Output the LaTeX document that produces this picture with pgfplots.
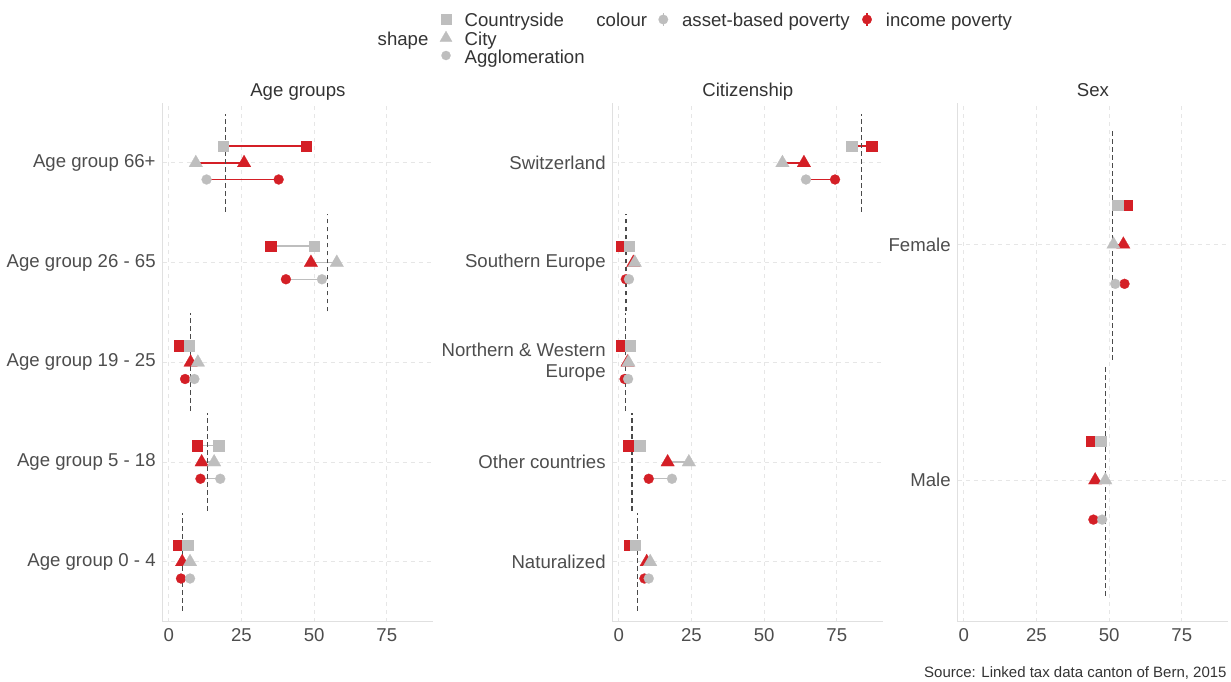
\documentclass[border=0pt]{standalone}
\usepackage{pgfplots}
\pgfplotsset{compat=1.18}
\usepackage{fontspec}
\setmainfont{Liberation Sans}
\definecolor{pgrey}{HTML}{BEBEBE}
\definecolor{pred}{HTML}{D41F26}
\definecolor{txt}{HTML}{4D4D4D}
\definecolor{ttl}{HTML}{333333}
\definecolor{gridc}{HTML}{E6E6E6}
\definecolor{axc}{HTML}{E0E0E0}
\definecolor{vline}{HTML}{4A4A4A}
\newcommand\lab{\fontsize{9.3pt}{10.5pt}\selectfont}
\newcommand\capfont{\fontsize{7.5pt}{9pt}\selectfont}

\pgfplotsset{
 panel/.style={scale only axis, width=135.15pt, height=259.35pt,
   xmin=-2.1, xmax=90.9, xtick={0,25,50,75},
   axis lines*=left, axis line style={draw=axc, line width=0.6pt, -},
   major tick length=0pt, grid=major,
   major grid style={draw=gridc, line width=0.5pt, dash pattern=on 2pt off 2pt},
   tick label style={font=\lab, text=txt},
   yticklabel style={align=right},
   /pgf/number format/assume math mode=true,
   unbounded coords=jump, clip=false},
 sq/.style={only marks, mark=square*, mark size=2.6pt},
 tr/.style={only marks, mark=triangle*, mark size=3.9pt},
 ci/.style={only marks, mark=*, mark size=2.5pt},
 gr/.style={color=pgrey, mark options={draw=pgrey, fill=pgrey, line width=0.1pt}},
 rd/.style={color=pred, mark options={draw=pred, fill=pred, line width=0.1pt}},
 segr/.style={pred, line width=0.7pt, mark=none},
 segg/.style={pgrey, line width=0.7pt, mark=none},
 popl/.style={vline, line width=0.7pt, dash pattern=on 2.4pt off 1.6pt, mark=none},
}

\begin{document}
\begin{tikzpicture}
\path[use as bounding box] (0,0) rectangle (615.5pt,340.5pt);

% ---------------- Panel 1: Age groups
\begin{axis}[panel, at={(81.35pt,29.65pt)}, anchor=south west,
  ymin=0.4, ymax=5.6, ytick={1,2,3,4,5},
  yticklabels={Age group 0 - 4, Age group 5 - 18, Age group 19 - 25, Age group 26 - 65, Age group 66+}]
\addplot[rd, sq] coordinates {(47.2,5.167) (35.0,4.167) (3.6,3.167) (9.8,2.167) (3.2,1.167)};
\addplot[rd, tr] coordinates {(25.9,5) (48.9,4) (7.5,3) (11.3,2) (4.6,1)};
\addplot[rd, ci] coordinates {(37.8,4.833) (40.3,3.833) (5.6,2.833) (10.9,1.833) (4.2,0.833)};
\addplot[gr, sq] coordinates {(18.7,5.167) (50.0,4.167) (7.0,3.167) (17.1,2.167) (6.4,1.167)};
\addplot[gr, tr] coordinates {(9.3,5) (57.8,4) (10.0,3) (15.6,2) (7.3,1)};
\addplot[gr, ci] coordinates {(13.0,4.833) (52.7,3.833) (8.8,2.833) (17.7,1.833) (7.3,0.833)};
\addplot[segr] coordinates {(18.7,5.167) (47.2,5.167) (0,nan) (9.3,5) (25.9,5) (0,nan) (13.0,4.833) (37.8,4.833)};
\addplot[segg] coordinates {(35.0,4.167) (50.0,4.167) (0,nan) (48.9,4) (57.8,4) (0,nan) (40.3,3.833) (52.7,3.833) (0,nan)
 (3.6,3.167) (7.0,3.167) (0,nan) (7.5,3) (10.0,3) (0,nan) (5.6,2.833) (8.8,2.833) (0,nan)
 (9.8,2.167) (17.1,2.167) (0,nan) (11.3,2) (15.6,2) (0,nan) (10.9,1.833) (17.7,1.833) (0,nan)
 (3.2,1.167) (6.4,1.167) (0,nan) (4.6,1) (7.3,1) (0,nan) (4.2,0.833) (7.3,0.833)};
\addplot[popl] coordinates {(19.5,4.51) (19.5,5.49) (0,nan) (54.7,3.51) (54.7,4.49) (0,nan) (7.4,2.51) (7.4,3.49) (0,nan)
 (13.3,1.51) (13.3,2.49) (0,nan) (4.7,0.51) (4.7,1.49)};
\end{axis}

% ---------------- Panel 2: Citizenship
\begin{axis}[panel, at={(306.35pt,29.65pt)}, anchor=south west,
  ymin=0.4, ymax=5.6, ytick={1,2,3,4,5},
  yticklabels={Naturalized, Other countries, {Northern \& Western\\Europe}, Southern Europe, Switzerland}]
\addplot[rd, sq] coordinates {(87.0,5.167) (0.7,4.167) (1.0,3.167) (3.1,2.167) (3.7,1.167)};
\addplot[rd, tr] coordinates {(63.7,5) (5.0,4) (3.0,3) (16.8,2) (9.6,1)};
\addplot[rd, ci] coordinates {(74.4,4.833) (2.4,3.833) (2.0,2.833) (10.3,1.833) (8.8,0.833)};
\addplot[gr, sq] coordinates {(80.1,5.167) (3.5,4.167) (3.9,3.167) (7.1,2.167) (5.7,1.167)};
\addplot[gr, tr] coordinates {(56.3,5) (5.5,4) (3.3,3) (24.1,2) (10.8,1)};
\addplot[gr, ci] coordinates {(64.4,4.833) (3.5,3.833) (3.2,2.833) (18.3,1.833) (10.3,0.833)};
\addplot[segr] coordinates {(80.1,5.167) (87.0,5.167) (0,nan) (56.3,5) (63.7,5) (0,nan) (64.4,4.833) (74.4,4.833)};
\addplot[segg] coordinates {(0.7,4.167) (3.5,4.167) (0,nan) (5.0,4) (5.5,4) (0,nan) (2.4,3.833) (3.5,3.833) (0,nan)
 (1.0,3.167) (3.9,3.167) (0,nan) (3.0,3) (3.3,3) (0,nan) (2.0,2.833) (3.2,2.833) (0,nan)
 (3.1,2.167) (7.1,2.167) (0,nan) (16.8,2) (24.1,2) (0,nan) (10.3,1.833) (18.3,1.833) (0,nan)
 (3.7,1.167) (5.7,1.167) (0,nan) (9.6,1) (10.8,1) (0,nan) (8.8,0.833) (10.3,0.833)};
\addplot[popl] coordinates {(83.5,4.51) (83.5,5.49) (0,nan) (2.5,3.51) (2.5,4.49) (0,nan) (2.4,2.51) (2.4,3.49) (0,nan)
 (4.5,1.51) (4.5,2.49) (0,nan) (6.5,0.51) (6.5,1.49)};
\end{axis}

% ---------------- Panel 3: Sex
\begin{axis}[panel, at={(478.85pt,29.65pt)}, anchor=south west,
  ymin=0.4, ymax=2.6, ytick={1,2},
  yticklabels={Male, Female}]
\addplot[rd, sq] coordinates {(56.1,2.167) (44.0,1.167)};
\addplot[rd, tr] coordinates {(54.9,2) (45.2,1)};
\addplot[rd, ci] coordinates {(55.3,1.833) (44.6,0.833)};
\addplot[gr, sq] coordinates {(52.9,2.167) (47.0,1.167)};
\addplot[gr, tr] coordinates {(51.5,2) (48.7,1)};
\addplot[gr, ci] coordinates {(52.1,1.833) (47.6,0.833)};
\addplot[segr] coordinates {(52.9,2.167) (56.1,2.167) (0,nan) (51.5,2) (54.9,2) (0,nan) (52.1,1.833) (55.3,1.833)};
\addplot[segg] coordinates {(44.0,1.167) (47.0,1.167) (0,nan) (45.2,1) (48.7,1) (0,nan) (44.6,0.833) (47.6,0.833)};
\addplot[popl] coordinates {(51.2,1.51) (51.2,2.49) (0,nan) (48.8,0.51) (48.8,1.49)};
\end{axis}

% ---------------- Overlay: titles, legend, caption (pixel coordinates)
\begin{axis}[at={(0pt,0pt)}, anchor=south west, scale only axis,
  width=615.5pt, height=340.5pt, xmin=0, xmax=1231, ymin=0, ymax=681,
  y dir=reverse, hide axis, clip=false]
\node[anchor=base, font=\lab, text=ttl, inner sep=0pt] at (axis cs:297.85,96) {Age groups};
\node[anchor=base, font=\lab, text=ttl, inner sep=0pt] at (axis cs:747.85,96) {Citizenship};
\node[anchor=base, font=\lab, text=ttl, inner sep=0pt] at (axis cs:1092.85,96) {Sex};
\node[anchor=base east, font=\capfont, text=ttl, inner sep=0pt] at (axis cs:1227,677.5) {Source: Linked tax data canton of Bern, 2015};
% legend
\addplot[gr, sq, mark size=2.5pt] coordinates {(446,19.5)};
\addplot[gr, tr, mark size=3.5pt] coordinates {(446,38)};
\addplot[gr, ci, mark size=2.3pt] coordinates {(446,55.5)};
\addplot[pgrey, line width=0.6pt, mark=none] coordinates {(663.3,13) (663.3,26)};
\addplot[gr, ci, mark size=2.4pt] coordinates {(663.3,19.5)};
\addplot[pred, line width=0.6pt, mark=none] coordinates {(867,13) (867,26)};
\addplot[rd, ci, mark size=2.4pt] coordinates {(867,19.5)};
\node[anchor=base west, font=\lab, text=ttl, inner sep=0pt] at (axis cs:377.3,45.5) {shape};
\node[anchor=base west, font=\lab, text=ttl, inner sep=0pt] at (axis cs:464.3,26.7) {Countryside};
\node[anchor=base west, font=\lab, text=ttl, inner sep=0pt] at (axis cs:464.3,45) {City};
\node[anchor=base west, font=\lab, text=ttl, inner sep=0pt] at (axis cs:464.3,63.3) {Agglomeration};
\node[anchor=base west, font=\lab, text=ttl, inner sep=0pt] at (axis cs:596,26.7) {colour};
\node[anchor=base west, font=\lab, text=ttl, inner sep=0pt] at (axis cs:681.7,26.7) {asset-based poverty};
\node[anchor=base west, font=\lab, text=ttl, inner sep=0pt] at (axis cs:885.5,26.7) {income poverty};
\end{axis}
\end{tikzpicture}
\end{document}
